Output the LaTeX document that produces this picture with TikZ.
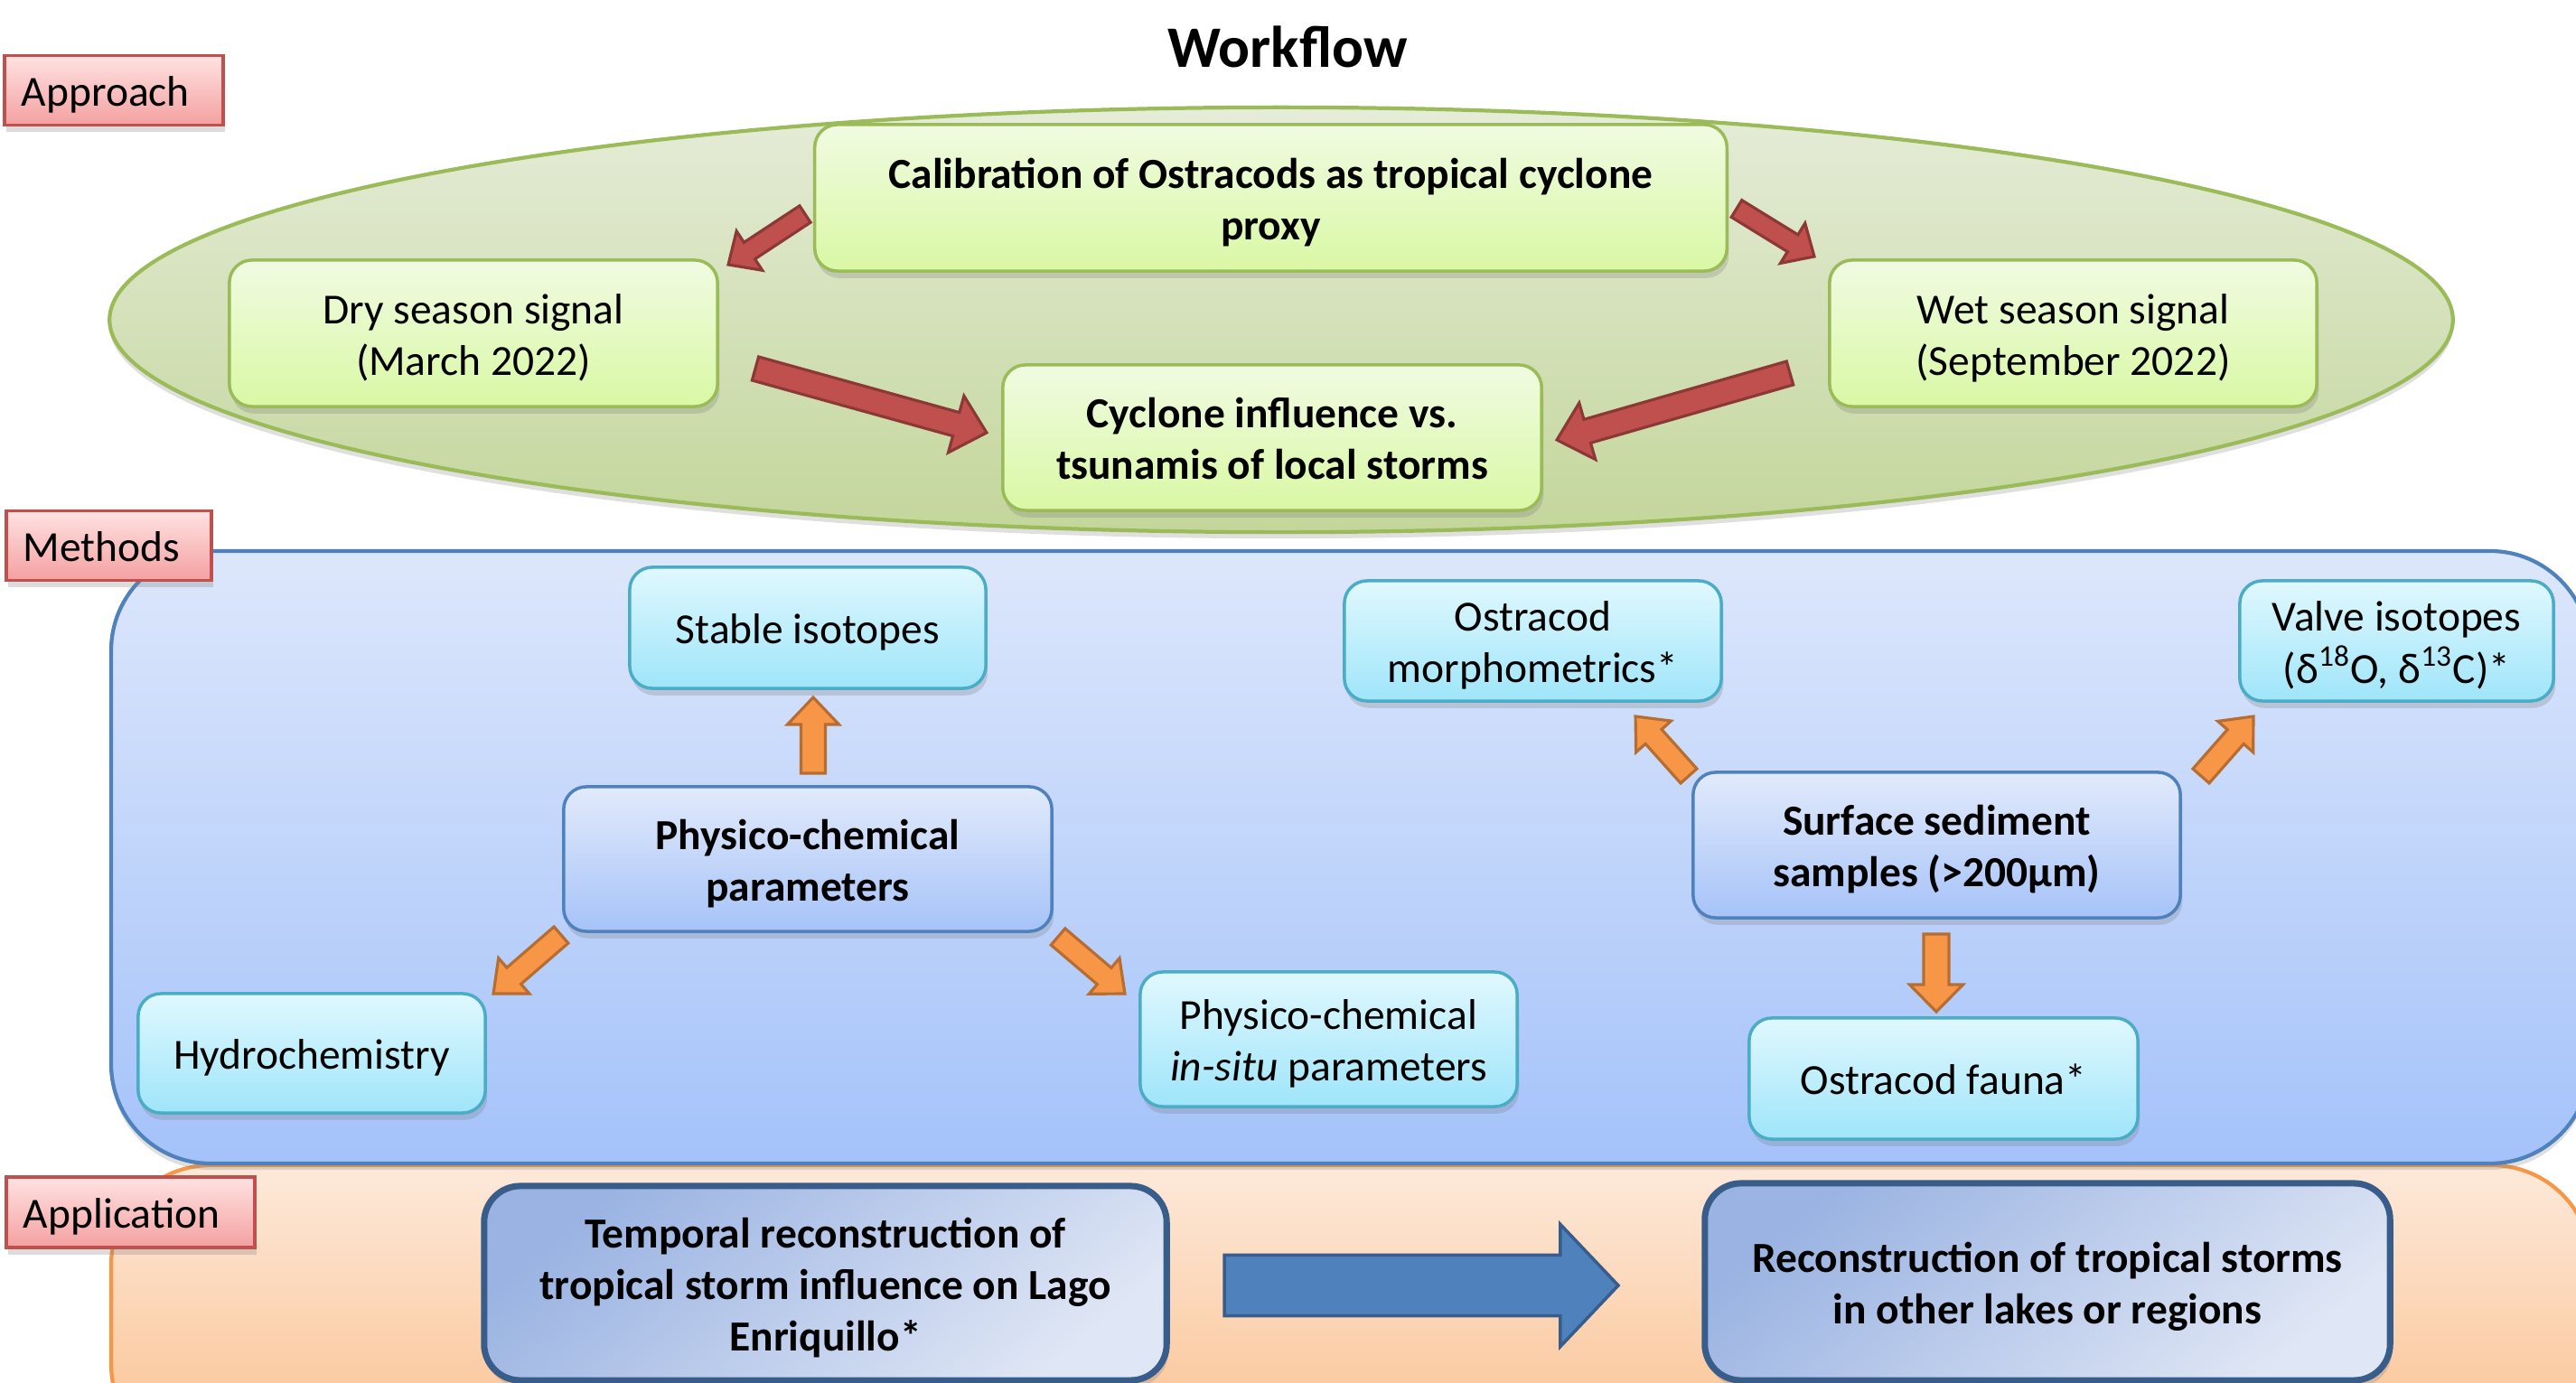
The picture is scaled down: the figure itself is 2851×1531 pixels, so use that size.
\documentclass[tikz,border=0pt]{standalone}
\usepackage{fontspec}
\setmainfont{Carlito}
\usetikzlibrary{calc,shadows}
\definecolor{gbord}{HTML}{9BBB59}
\definecolor{gtop}{HTML}{F0FBE2}
\definecolor{gbot}{HTML}{D9F8A4}
\definecolor{etop}{HTML}{E5ECD8}
\definecolor{ebot}{HTML}{C3D69B}
\definecolor{ctop}{HTML}{E0F8FE}
\definecolor{cbot}{HTML}{9FE5FA}
\definecolor{cbord}{HTML}{4BACC6}
\definecolor{btop}{HTML}{E2EAFB}
\definecolor{bbot}{HTML}{A6C3F8}
\definecolor{bbord}{HTML}{4F81BD}
\definecolor{mtop}{HTML}{DDE7FB}
\definecolor{mbot}{HTML}{A4C2FA}
\definecolor{otop}{HTML}{FDE9DA}
\definecolor{obot}{HTML}{FAC08E}
\definecolor{obord}{HTML}{F79646}
\definecolor{ltop}{HTML}{FFE2E2}
\definecolor{lbot}{HTML}{F4A0A0}
\definecolor{lbord}{HTML}{C0504D}
\definecolor{redf}{HTML}{C0504D}
\definecolor{redd}{HTML}{8C3836}
\definecolor{orf}{HTML}{F79646}
\definecolor{ord}{HTML}{B66D31}
\definecolor{atop}{HTML}{9AB3E2}
\definecolor{abot}{HTML}{DFE6F5}
\definecolor{abord}{HTML}{385D8A}
\definecolor{bigf}{HTML}{4F81BD}
\newcommand{\mainfs}{\fontsize{13.5}{16.2}\selectfont}
% text block with uniform line struts, lowered slightly (PowerPoint-like placement)
\newcommand{\tx}[1]{\raisebox{-1.8pt}[\height][\depth]{\begin{tabular}{@{}c@{}}#1\end{tabular}}}
% #1 from, #2 to, #3 shaft width px, #4 head width px, #5 head length px, #6 style
\newcommand{\blockarrow}[6]{%
  \path[#6] let \p1=(#1), \p2=(#2),
    \n1={atan2((\y2)-(\y1),(\x2)-(\x1))}, \n2={veclen((\x2)-(\x1),(\y2)-(\y1))} in
    [shift={(\p1)}, rotate=\n1]
    (0pt,{-#3/2*0.28453pt}) -- ({(\n2-#5*0.28453)*1pt},{-#3/2*0.28453pt})
    -- ({(\n2-#5*0.28453)*1pt},{-#4/2*0.28453pt}) -- ({\n2*1pt},0pt)
    -- ({(\n2-#5*0.28453)*1pt},{#4/2*0.28453pt}) -- ({(\n2-#5*0.28453)*1pt},{#3/2*0.28453pt})
    -- (0pt,{#3/2*0.28453pt}) -- cycle;
}
\begin{document}
\begin{tikzpicture}[x=0.01cm,y=-0.01cm,
  shad/.style={drop shadow={shadow xshift=0.6pt, shadow yshift=-2.2pt, opacity=0.28}},
  boxbase/.style={rectangle, align=center, inner sep=0pt, font=\mainfs, shad},
  gbox/.style={boxbase, rounded corners=0.25cm, draw=gbord, line width=1pt, top color=gtop, bottom color=gbot},
  cbox/.style={boxbase, rounded corners=0.25cm, draw=cbord, line width=1pt, top color=ctop, bottom color=cbot},
  bbox/.style={boxbase, rounded corners=0.25cm, draw=bbord, line width=1pt, top color=btop, bottom color=bbot, font=\mainfs\bfseries},
  abox/.style={boxbase, rounded corners=0.4cm, draw=abord, line width=2pt, top color=atop, bottom color=abot, shading angle=40, font=\mainfs\bfseries},
  lbl/.style={boxbase, draw=lbord, line width=1pt, top color=ltop, bottom color=lbot, align=left, inner xsep=0.19cm, minimum height=0.77cm},
  redarr/.style={fill=redf, draw=redd, line width=0.9pt},
  orarr/.style={fill=orf, draw=ord, line width=0.9pt},
  bigarr/.style={fill=bigf, draw=abord, line width=1pt}
]
\useasboundingbox (0,0) rectangle (2851,1531);

% ---- background regions
\draw[draw=obord, line width=1.2pt, top color=otop, bottom color=obot, rounded corners=1.1cm] (123,1290) rectangle (2868,1620);
\draw[draw=bbord, line width=1.2pt, top color=mtop, bottom color=mbot, rounded corners=1.1cm, drop shadow={shadow xshift=0pt, shadow yshift=-2pt, opacity=0.25}] (123,610) rectangle (2866,1288);
\draw[draw=gbord, line width=1.2pt, top color=etop, bottom color=ebot, drop shadow={shadow xshift=0pt, shadow yshift=-2pt, opacity=0.25}] (1418,354) ellipse [x radius=12.96cm, y radius=2.35cm];

% ---- title and labels
\node[font=\fontsize{18.5}{22}\selectfont\bfseries] (title) at (1425,52) {Workflow};
\node[lbl, text width=2.04cm] (approach) at (126,100) {\tx{Approach}};
\node[lbl, text width=1.89cm] (methods) at (120.5,604) {\tx{Methods}};
\node[lbl, text width=2.37cm, minimum height=0.78cm] (application) at (144.5,1342) {\tx{Application}};

% ---- approach
\node[gbox, font=\mainfs\bfseries, minimum width=10.09cm, minimum height=1.62cm] (cal) at (1406.5,219) {\tx{Calibration of Ostracods as tropical cyclone\\proxy}};
\node[gbox, minimum width=5.40cm, minimum height=1.62cm] (dry) at (524,369) {\tx{Dry season signal\\(March 2022)}};
\node[gbox, minimum width=5.39cm, minimum height=1.62cm] (wet) at (2294.5,369) {\tx{Wet season signal\\(September 2022)}};
\node[gbox, font=\mainfs\bfseries, minimum width=5.96cm, minimum height=1.61cm] (cyc) at (1408,484.5) {\tx{Cyclone influence vs.\\tsunamis of local storms}};

\coordinate (r1a) at (891,237);  \coordinate (r1b) at (806,293);
\coordinate (r2a) at (1922,231); \coordinate (r2b) at (2008,284);
\coordinate (r3a) at (836,408);  \coordinate (r3b) at (1092,479);
\coordinate (r4a) at (1981,413); \coordinate (r4b) at (1723,487);
\blockarrow{r1a}{r1b}{22}{52}{28}{redarr}
\blockarrow{r2a}{r2b}{22}{52}{28}{redarr}
\blockarrow{r3a}{r3b}{27}{65}{35}{redarr}
\blockarrow{r4a}{r4b}{27}{65}{35}{redarr}

% ---- methods
\node[cbox, minimum width=3.94cm, minimum height=1.34cm] (stable) at (894,695) {\tx{Stable isotopes}};
\node[bbox, minimum width=5.40cm, minimum height=1.60cm] (phys) at (894,951) {\tx{Physico-chemical\\parameters}};
\node[cbox, minimum width=3.84cm, minimum height=1.32cm] (hydro) at (345,1166) {\tx{Hydrochemistry}};
\node[cbox, minimum width=4.17cm, minimum height=1.49cm] (insitu) at (1470.5,1150.5) {\tx{Physico-chemical\\\textit{in-situ} parameters}};
\node[cbox, minimum width=4.17cm, minimum height=1.33cm] (morph) at (1696.5,709.5) {\tx{Ostracod\\morphometrics*}};
\node[cbox, minimum width=3.47cm, minimum height=1.33cm] (valve) at (2652.5,709.5) {\tx{Valve isotopes\\(δ\textsuperscript{18}O, δ\textsuperscript{13}C)*}};
\node[bbox, minimum width=5.39cm, minimum height=1.61cm] (surf) at (2143.5,935.5) {\tx{Surface sediment\\samples (>200µm)}};
\node[cbox, minimum width=4.30cm, minimum height=1.34cm] (fauna) at (2151,1194) {\tx{Ostracod fauna*}};

\coordinate (o1a) at (900,856);   \coordinate (o1b) at (900,772);
\coordinate (o2a) at (621,1035);  \coordinate (o2b) at (546,1100);
\coordinate (o3a) at (1171,1037); \coordinate (o3b) at (1245,1100);
\coordinate (o4a) at (1869,859);  \coordinate (o4b) at (1810,793);
\coordinate (o5a) at (2436,859);  \coordinate (o5b) at (2494,793);
\coordinate (o6a) at (2143,1034); \coordinate (o6b) at (2143,1120);
\blockarrow{o1a}{o1b}{27}{57}{30}{orarr}
\blockarrow{o2a}{o2b}{24}{52}{30}{orarr}
\blockarrow{o3a}{o3b}{24}{52}{30}{orarr}
\blockarrow{o4a}{o4b}{24}{52}{30}{orarr}
\blockarrow{o5a}{o5b}{24}{52}{30}{orarr}
\blockarrow{o6a}{o6b}{28}{59}{30}{orarr}

% ---- application
\node[abox, minimum width=7.55cm, minimum height=2.15cm] (temp) at (913.5,1420.5) {\tx{Temporal reconstruction of\\tropical storm influence on Lago\\Enriquillo*}};
\node[abox, minimum width=7.58cm, minimum height=2.18cm] (recon) at (2266,1419) {\tx{Reconstruction of tropical storms\\in other lakes or regions}};
\coordinate (b1a) at (1355,1423); \coordinate (b1b) at (1791,1423);
\blockarrow{b1a}{b1b}{67}{135}{64}{bigarr}
\end{tikzpicture}
\end{document}
